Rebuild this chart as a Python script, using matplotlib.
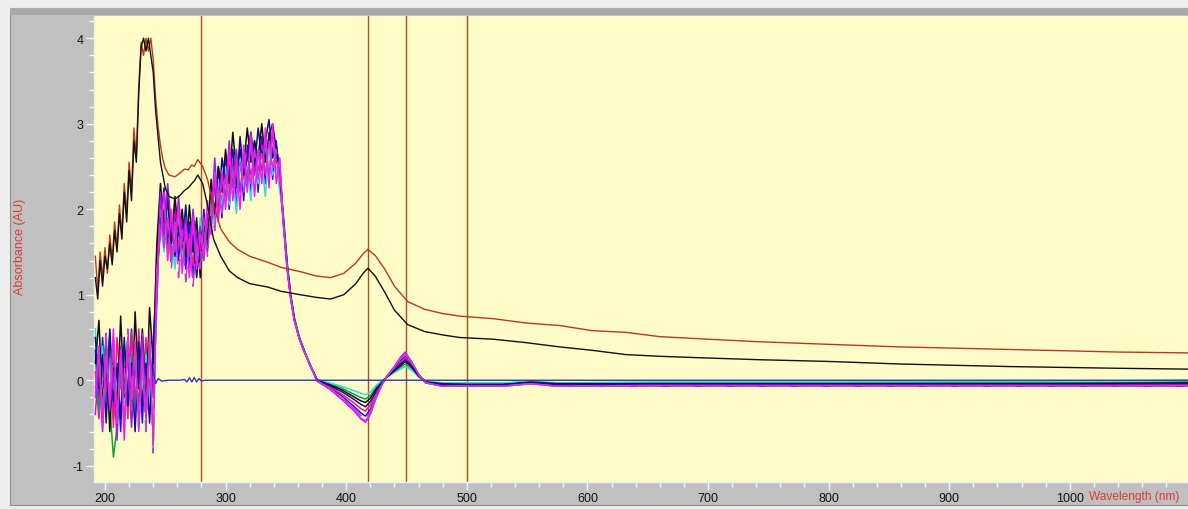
import matplotlib
matplotlib.use("Agg")
import matplotlib.pyplot as plt
from matplotlib.patches import Rectangle
from matplotlib.ticker import MultipleLocator
import numpy as np

plt.rcParams['font.family'] = ['Liberation Sans', 'DejaVu Sans']
plt.rcParams['axes.unicode_minus'] = False

# Longitudes de onda comunes (nm)
uv_wl = [192, 195, 198, 201, 204, 207, 210, 213, 216, 219, 222, 225, 228, 231, 234, 237, 240]
band_wl = [243, 246, 249, 252, 255, 258, 261, 264, 267, 270, 273, 276, 279, 282, 285, 288, 291, 294,
           297, 300, 303, 306, 309, 312, 315, 318, 321, 324, 327, 330, 333, 336, 339, 342, 345]
tail_wl = [348, 351, 354, 357, 361, 365, 370, 376, 386, 396, 406, 412, 416, 420, 425, 430, 434, 440,
           445, 449, 454, 460, 466, 480, 500, 530, 553, 575, 650, 800, 1000, 1098]

# Espectros de las muestras (zona UV ruidosa, banda 245-345 nm, cola)
azul_uv = [0.35, -0.3, 0.5, -0.1, 0.55, -0.45, 0.2, -0.6, 0.4, -0.2, 0.6, -0.35, 0.3, -0.5, 0.45, -0.25, 0.1]
azul_band = [1.0, 2.1, 1.6, 2.2, 1.5, 2.0, 1.4, 1.9, 1.3, 1.85, 1.2, 1.75, 1.35, 2.0, 1.5, 2.3, 1.8, 2.5,
             1.9, 2.6, 2.0, 2.65, 2.05, 2.7, 2.1, 2.75, 2.2, 2.8, 2.2, 2.85, 2.3, 2.9, 2.35, 2.8, 2.3]
azul_tail = [1.84, 1.33, 0.97, 0.71, 0.49, 0.35, 0.18, -0.01, -0.08, -0.18, -0.3, -0.38, -0.42, -0.34, -0.17,
             -0.03, 0.05, 0.14, 0.23, 0.28, 0.19, 0.06, -0.03, -0.06, -0.06, -0.06, -0.03, -0.06, -0.06, -0.06,
             -0.06, -0.06]

magenta_uv = [-0.2, 0.4, -0.55, 0.3, -0.3, 0.6, -0.5, 0.35, -0.7, 0.5, -0.15, 0.45, -0.6, 0.3, -0.4, 0.55, -0.75]
magenta_band = [1.3, 1.7, 2.2, 1.4, 2.0, 1.5, 2.05, 1.25, 1.8, 1.2, 1.9, 1.3, 1.7, 1.45, 2.1, 1.7, 2.4, 1.85,
                2.45, 2.0, 2.7, 2.1, 2.55, 2.0, 2.75, 2.2, 2.85, 2.15, 2.7, 2.3, 2.95, 2.25, 3.0, 2.3, 2.6]
magenta_tail = [1.82, 1.31, 0.95, 0.7, 0.49, 0.34, 0.19, -0.01, -0.1, -0.21, -0.34, -0.44, -0.48, -0.39, -0.19,
                -0.04, 0.05, 0.16, 0.26, 0.32, 0.22, 0.07, -0.03, -0.07, -0.07, -0.07, -0.04, -0.07, -0.06,
                -0.06, -0.06, -0.06]

cian_uv = [0.6, 0.0, 0.4, -0.4, 0.2, 0.5, -0.2, 0.3, -0.35, 0.45, 0.05, -0.5, 0.35, -0.1, 0.3, -0.3, 0.5]
cian_band = [1.1, 1.8, 1.5, 2.0, 1.7, 1.3, 1.95, 1.4, 1.75, 1.25, 1.6, 1.35, 1.9, 1.5, 1.75, 2.1, 1.8, 2.35,
             2.0, 2.5, 2.05, 2.4, 1.95, 2.6, 2.25, 2.5, 2.1, 2.7, 2.3, 2.55, 2.15, 2.75, 2.4, 2.5, 2.2]
cian_tail = [1.95, 1.4, 1.02, 0.74, 0.52, 0.36, 0.17, 0.01, -0.03, -0.07, -0.12, -0.15, -0.17, -0.14, -0.06,
             0.0, 0.04, 0.09, 0.13, 0.16, 0.12, 0.04, -0.01, -0.03, -0.03, -0.03, -0.01, -0.03, -0.02, -0.02,
             -0.01, 0.0]

rosa_uv = [0.1, -0.45, 0.3, -0.2, 0.45, -0.55, 0.5, -0.1, 0.25, -0.45, 0.55, -0.3, 0.6, -0.2, 0.5, -0.1, 0.3]
rosa_band = [1.5, 1.95, 1.6, 1.85, 1.4, 2.1, 1.55, 1.95, 1.5, 1.7, 1.35, 1.8, 1.5, 1.9, 1.6, 2.2, 1.9, 2.3,
             2.1, 2.45, 2.2, 2.6, 2.3, 2.5, 2.35, 2.65, 2.4, 2.6, 2.45, 2.75, 2.4, 2.7, 2.5, 2.6, 2.35]
rosa_tail = [1.85, 1.34, 0.97, 0.71, 0.5, 0.35, 0.18, -0.01, -0.07, -0.16, -0.26, -0.33, -0.36, -0.29, -0.14,
             -0.03, 0.04, 0.13, 0.21, 0.26, 0.18, 0.06, -0.03, -0.05, -0.06, -0.06, -0.03, -0.06, -0.05, -0.05,
             -0.05, -0.05]

morado_uv = [-0.4, 0.2, -0.6, 0.45, -0.35, 0.1, -0.7, 0.4, -0.15, 0.3, -0.55, 0.2, -0.3, 0.55, -0.45, 0.35, -0.2]
morado_band = [0.9, 2.2, 1.7, 2.3, 1.8, 1.55, 2.15, 1.6, 1.9, 1.45, 2.0, 1.55, 1.8, 1.4, 1.95, 1.85, 2.6, 2.0,
               2.35, 2.15, 2.8, 2.25, 2.7, 2.2, 2.6, 2.3, 2.9, 2.4, 2.65, 2.45, 2.8, 2.35, 2.9, 2.55, 2.5]
morado_tail = [1.8, 1.3, 0.95, 0.7, 0.49, 0.34, 0.19, -0.01, -0.1, -0.22, -0.35, -0.45, -0.49, -0.4, -0.2,
               -0.04, 0.05, 0.16, 0.27, 0.33, 0.22, 0.07, -0.03, -0.07, -0.07, -0.07, -0.04, -0.07, -0.07,
               -0.07, -0.07, -0.07]

marino_uv = [0.5, -0.1, 0.3, -0.5, 0.6, -0.25, 0.15, -0.45, 0.5, -0.3, 0.2, -0.6, 0.45, -0.3, 0.2, -0.5, 0.4]
marino_band = [1.2, 1.85, 2.25, 1.6, 1.9, 1.45, 1.75, 1.55, 2.05, 1.35, 1.7, 1.2, 1.65, 1.8, 1.55, 2.0, 2.3,
               1.95, 2.6, 2.3, 2.45, 2.7, 2.25, 2.85, 2.4, 2.6, 2.9, 2.5, 2.95, 2.6, 2.8, 3.05, 2.6, 2.75, 2.45]
marino_tail = [1.86, 1.35, 0.98, 0.72, 0.5, 0.35, 0.18, 0.0, -0.06, -0.13, -0.22, -0.28, -0.31, -0.25, -0.12,
               -0.02, 0.04, 0.12, 0.19, 0.24, 0.17, 0.06, -0.02, -0.05, -0.05, -0.05, -0.03, -0.05, -0.05,
               -0.05, -0.05, -0.04]

negro_uv = [0.2, 0.7, -0.3, 0.4, -0.6, 0.3, -0.4, 0.75, -0.2, 0.5, -0.45, 0.8, -0.1, 0.6, -0.3, 0.85, 0.2]
negro_band = [1.6, 2.3, 1.8, 2.1, 1.6, 2.15, 1.7, 2.0, 1.45, 2.05, 1.5, 1.9, 1.2, 1.8, 1.65, 2.35, 1.95, 2.5,
              2.2, 2.7, 2.3, 2.9, 2.45, 2.7, 2.5, 2.95, 2.55, 2.8, 2.6, 3.0, 2.55, 2.85, 3.0, 2.7, 2.4]
negro_tail = [1.88, 1.36, 0.99, 0.72, 0.5, 0.35, 0.18, 0.0, -0.05, -0.11, -0.19, -0.24, -0.26, -0.21, -0.1,
              -0.02, 0.04, 0.11, 0.17, 0.22, 0.16, 0.05, -0.02, -0.04, -0.05, -0.05, -0.02, -0.04, -0.04,
              -0.04, -0.04, -0.03]

orquidea_uv = [-0.1, 0.3, -0.4, 0.55, -0.25, 0.35, -0.5, 0.25, -0.45, 0.6, -0.35, 0.4, -0.55, 0.2, -0.6, 0.45, -0.85]
orquidea_band = [1.1, 2.0, 1.55, 1.9, 1.3, 1.85, 1.2, 1.75, 1.15, 1.65, 1.1, 1.6, 1.3, 1.85, 1.45, 2.05, 1.75,
                 2.25, 1.95, 2.4, 2.1, 2.45, 2.15, 2.55, 2.2, 2.5, 2.3, 2.7, 2.35, 2.65, 2.4, 2.8, 2.45, 2.7, 2.3]
orquidea_tail = [1.83, 1.32, 0.96, 0.7, 0.49, 0.34, 0.18, -0.01, -0.09, -0.2, -0.32, -0.41, -0.45, -0.37, -0.18,
                 -0.04, 0.05, 0.15, 0.25, 0.3, 0.21, 0.07, -0.03, -0.07, -0.07, -0.07, -0.04, -0.07, -0.07,
                 -0.07, -0.07, -0.07]

verde_uv = [0.3, -0.35, 0.1, 0.5, -0.3, -0.9, -0.55, 0.1, 0.4, -0.25, 0.3, -0.4, 0.15, -0.25, 0.35, -0.4, 0.2]
verde_band = [1.3, 1.75, 2.0, 1.5, 1.8, 1.6, 1.9, 1.5, 1.7, 1.55, 1.8, 1.45, 1.75, 1.6, 1.9, 2.0, 2.2, 2.3,
              2.25, 2.4, 2.45, 2.5, 2.4, 2.55, 2.5, 2.6, 2.55, 2.65, 2.6, 2.7, 2.65, 2.8, 2.7, 2.6, 2.4]
verde_tail = [1.9, 1.38, 1.0, 0.73, 0.51, 0.35, 0.17, 0.0, -0.04, -0.09, -0.16, -0.2, -0.22, -0.18, -0.08,
              -0.01, 0.04, 0.1, 0.15, 0.19, 0.14, 0.05, -0.02, -0.04, -0.04, -0.04, -0.02, -0.04, -0.03, -0.03,
              -0.03, -0.02]

# Referencias (las dos curvas superiores)
ref_wl = [192, 194, 196, 198, 200, 202, 204, 206, 208, 210, 212, 214, 216, 218, 220, 222, 224, 226, 228, 230,
          232, 234, 236, 238, 240, 242, 244, 246, 248, 250, 253, 258, 262, 266, 269, 272, 274, 277, 281, 285,
          290, 296, 303, 310, 320, 335, 346, 362, 375, 387, 398, 408, 414, 418, 424, 432, 440, 451, 465, 480,
          494, 522, 549, 577, 604, 632, 660, 700, 743, 800, 859, 950, 1040, 1098]
rojo_ref = [1.45, 1.05, 1.5, 1.2, 1.55, 1.25, 1.7, 1.4, 1.85, 1.55, 2.05, 1.7, 2.3, 1.95, 2.55, 2.2, 2.95, 2.6,
            3.45, 3.95, 3.8, 4.0, 3.85, 4.0, 3.75, 3.3, 2.97, 2.75, 2.58, 2.48, 2.4, 2.38, 2.42, 2.47, 2.46,
            2.52, 2.5, 2.58, 2.5, 2.35, 2.05, 1.77, 1.62, 1.53, 1.45, 1.38, 1.32, 1.27, 1.22, 1.2, 1.25, 1.37,
            1.48, 1.53, 1.46, 1.3, 1.1, 0.92, 0.83, 0.78, 0.75, 0.72, 0.67, 0.64, 0.58, 0.56, 0.51, 0.48, 0.45,
            0.42, 0.39, 0.36, 0.33, 0.32]
negro_ref = [1.2, 0.95, 1.4, 1.1, 1.45, 1.3, 1.6, 1.35, 1.75, 1.5, 1.95, 1.65, 2.2, 1.85, 2.45, 2.1, 2.8, 2.55,
             3.35, 3.9, 4.0, 3.85, 4.0, 3.8, 3.6, 3.15, 2.85, 2.55, 2.4, 2.25, 2.15, 2.12, 2.16, 2.22, 2.25,
             2.3, 2.33, 2.4, 2.3, 2.05, 1.65, 1.45, 1.28, 1.2, 1.13, 1.09, 1.04, 1.0, 0.97, 0.95, 1.0, 1.13,
             1.25, 1.31, 1.22, 1.03, 0.82, 0.65, 0.57, 0.53, 0.5, 0.48, 0.44, 0.39, 0.35, 0.3, 0.28, 0.26, 0.24,
             0.22, 0.19, 0.16, 0.14, 0.13]

# Linea base
base_wl = [240, 242, 244, 247, 252, 262, 266, 268, 270, 272, 274, 276, 278, 280, 283, 290, 400, 700, 1098]
base_abs = [0.12, -0.04, 0.02, -0.01, 0.0, 0.0, 0.01, -0.02, 0.03, -0.02, 0.03, -0.02, 0.02, -0.01, 0.0, 0.0,
            0.0, 0.0, 0.0]

# Marcadores verticales (nm)
marcas = [280, 418, 450, 500]

W, H = 1188, 510
fig = plt.figure(figsize=(W / 100, H / 100), dpi=100, facecolor='#eeeeee')

# Marco gris tipo ventana
fig.patches.append(Rectangle((10 / W, 4 / H), 1 - 10 / W, 1 - 13 / H, transform=fig.transFigure,
                             facecolor='#c0c0c0', edgecolor='#8c8c8c', lw=0.8, zorder=-10))
fig.patches.append(Rectangle((10 / W, 1 - 16 / H), 1 - 10 / W, 7 / H, transform=fig.transFigure,
                             facecolor='#a9a9a9', edgecolor='none', zorder=-9))

ax = fig.add_axes([94 / W, 27 / H, (W - 94) / W, 466 / H])
ax.set_zorder(1)
ax.set_facecolor('#fffcc8')

for m in marcas:
    ax.axvline(m, color='#b04a22', lw=1.0, zorder=1)

muestras = [
    (azul_uv, azul_band, azul_tail, '#1414ff', '-'),
    (rosa_uv, rosa_band, rosa_tail, '#ff1488', '-'),
    (verde_uv, verde_band, verde_tail, '#10a040', '-'),
    (cian_uv, cian_band, cian_tail, '#30d8e0', '-'),
    (negro_uv, negro_band, negro_tail, '#101010', '-'),
    (marino_uv, marino_band, marino_tail, '#101090', '-'),
    (morado_uv, morado_band, morado_tail, '#9a20e0', '-'),
    (magenta_uv, magenta_band, magenta_tail, '#ff10ff', '-'),
    (orquidea_uv, orquidea_band, orquidea_tail, '#c040c8', '--'),
]
wl_total = np.array(uv_wl + band_wl + tail_wl)
for uv, band, tail, color, ls in muestras:
    y = np.array(uv + band + tail)
    line, = ax.plot(wl_total, y, color=color, lw=1.1, ls=ls, zorder=3)
    if ls == '--':
        line.set_dashes((16, 5))

ax.plot(ref_wl, rojo_ref, color='#b83a1c', lw=1.0, zorder=4)
ax.plot(ref_wl, negro_ref, color='#111111', lw=1.0, zorder=4)
ax.plot(base_wl, base_abs, color='#3434b4', lw=1.0, zorder=5)

ax.set_xlim(190.9, 1098)
ax.set_ylim(-1.19, 4.26)
ax.xaxis.set_major_locator(MultipleLocator(100))
ax.xaxis.set_minor_locator(MultipleLocator(20))
ax.yaxis.set_major_locator(MultipleLocator(1))
ax.yaxis.set_minor_locator(MultipleLocator(0.2))
ax.tick_params(which='major', length=5.5, width=1, color='#f4f4f4', labelsize=9, pad=2, labelcolor='#111111')
ax.tick_params(which='minor', length=3.5, width=1, color='#f4f4f4')
for s in ['top', 'right']:
    ax.spines[s].set_visible(False)
for s in ['left', 'bottom']:
    ax.spines[s].set_color('#f0f0f0')
    ax.spines[s].set_linewidth(1)

fig.text(20 / W, 1 - 247 / H, 'Absorbance (AU)', rotation=90, color='#d83a3a', fontsize=9,
         ha='center', va='center')
fig.text(1089 / W, 1 - 497 / H, 'Wavelength (nm)', color='#d83a3a', fontsize=8.6, ha='left', va='center')

fig.savefig('out.png', dpi=100, facecolor=fig.get_facecolor())
